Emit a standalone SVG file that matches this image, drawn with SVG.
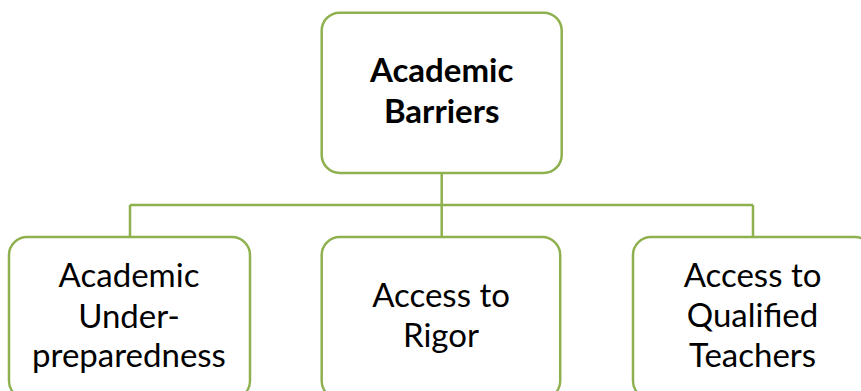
<svg xmlns="http://www.w3.org/2000/svg" width="861" height="391" viewBox="0 0 861 391">
<style>
.box{fill:#fff;stroke:#8FB04F;stroke-width:2.5}
.con{fill:none;stroke:#8FB04F;stroke-width:2.5}
text{font-family:Lato,"Liberation Sans",sans-serif;font-size:33px;fill:#000;text-anchor:middle}
.b{font-weight:bold}
</style>
<rect width="861" height="391" fill="#fff"/>
<g id="connectors">
<path class="con" d="M441.7 173V205M130 205H753M130 205V237M441.7 205V237M753 205V237"/>
</g>
<g id="root">
<rect class="box" x="321.7" y="12.7" width="240" height="160.3" rx="18"/>
<text class="b" x="441.7" y="81.7">Academic</text>
<text class="b" x="441.7" y="122.7">Barriers</text>
</g>
<g id="n1">
<rect class="box" x="9" y="237" width="241" height="162" rx="18"/>
<text x="129" y="286.7">Academic</text>
<text x="129" y="327.7">Under-</text>
<text x="129" y="366.7">preparedness</text>
</g>
<g id="n2">
<rect class="box" x="321.7" y="237" width="238.5" height="162" rx="18"/>
<text x="441" y="306.7">Access to</text>
<text x="441" y="346.7">Rigor</text>
</g>
<g id="n3">
<rect class="box" x="633" y="237" width="240" height="162" rx="18"/>
<text x="752.5" y="286.7">Access to</text>
<text x="752.5" y="326.7">Qualified</text>
<text x="752.5" y="366.7">Teachers</text>
</g>
</svg>
